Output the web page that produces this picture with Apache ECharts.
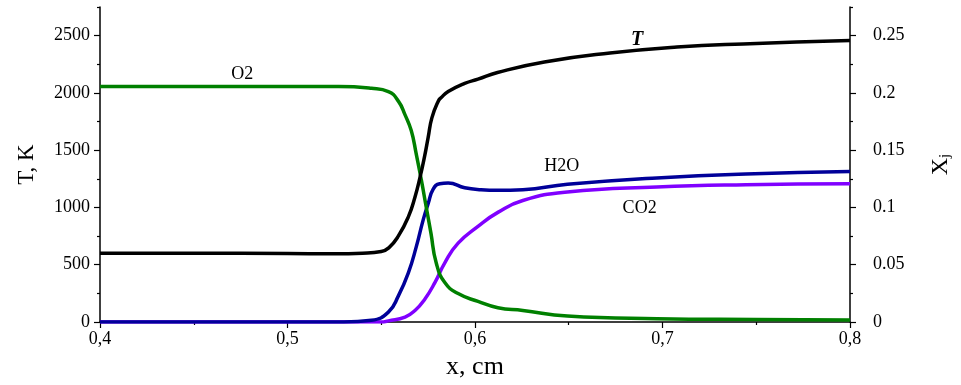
<!DOCTYPE html>
<html>
<head>
<meta charset="utf-8">
<script src="https://cdn.jsdelivr.net/npm/echarts@6/dist/echarts.min.js"></script>
<style>
  html, body { margin: 0; padding: 0; background: #fff; }
  #main { width: 961px; height: 385px; }
</style>
</head>
<body>
<div id="main"></div>
<script>
// temperature, left axis (K)
var tX = [0.40, 0.45, 0.50, 0.525, 0.54, 0.550, 0.554, 0.559, 0.5645, 0.568, 0.5707, 0.573, 0.575, 0.577, 0.5804, 0.582, 0.5857, 0.5945, 0.6016, 0.612, 0.637, 0.672, 0.7077, 0.743, 0.80];
var tVals = [600, 600, 598, 595, 600, 615, 647, 747, 920, 1092, 1265, 1437, 1610, 1782, 1928, 1960, 2012, 2083, 2120, 2178, 2270, 2348, 2400, 2428, 2457];

// mole fractions, right axis
var o2X = [0.40, 0.50, 0.5273, 0.5448, 0.5538, 0.5592, 0.5627, 0.566, 0.5687, 0.5714, 0.574, 0.5765, 0.5793, 0.5839, 0.591, 0.6016, 0.6122, 0.6255, 0.6493, 0.697, 0.75, 0.80];
var o2Vals = [0.2055, 0.2055, 0.2055, 0.2040, 0.2012, 0.1926, 0.1808, 0.1671, 0.1464, 0.1238, 0.1002, 0.0776, 0.0517, 0.0344, 0.0248, 0.0180, 0.0124, 0.0101, 0.0052, 0.0029, 0.0022, 0.0018];

var h2oX = [0.40, 0.53, 0.5448, 0.5538, 0.5592, 0.5645, 0.5687, 0.5724, 0.575, 0.5777, 0.5812, 0.5857, 0.5945, 0.6032, 0.6122, 0.6255, 0.6493, 0.697, 0.7445, 0.80];
var h2oVals = [0, 0, 0.0015, 0.0086, 0.0230, 0.0431, 0.0658, 0.0894, 0.1032, 0.1160, 0.1207, 0.1213, 0.1172, 0.1155, 0.1150, 0.1155, 0.1202, 0.1258, 0.1293, 0.1314];

var co2X = [0.40, 0.55, 0.5538, 0.5627, 0.568, 0.5733, 0.5786, 0.5839, 0.591, 0.6016, 0.6122, 0.6255, 0.6493, 0.697, 0.7445, 0.80];
var co2Vals = [0, 0, 0.0010, 0.0043, 0.0101, 0.0201, 0.0344, 0.0517, 0.0688, 0.0835, 0.0957, 0.1061, 0.1135, 0.1179, 0.1199, 0.1207];

var tMajor = [0, 500, 1000, 1500, 2000, 2500];
var tMinor = [250, 750, 1250, 1750, 2250, 2750];
var xjMajor = [0, 0.05, 0.1, 0.15, 0.2, 0.25];
var xjMinor = [0.025, 0.075, 0.125, 0.175, 0.225, 0.275];

var FONT = '"Liberation Serif", "Times New Roman", serif';

function pairs(xs, ys) {
  return xs.map(function (x, i) { return [x, ys[i]]; });
}

function tag(text, coord, extra) {
  var label = {
    show: true,
    formatter: text,
    position: 'inside',
    color: '#000',
    fontSize: 18,
    fontFamily: FONT
  };
  if (extra) Object.assign(label, extra);
  return {
    symbol: 'circle',
    symbolSize: 0,
    silent: true,
    data: [{ coord: coord }],
    label: label
  };
}

var chart = echarts.init(document.getElementById('main'));
var lineAxis = { lineStyle: { color: '#000', width: 1.5 } };
var tickStyle = { color: '#000', width: 1.2 };

chart.setOption({
  animation: false,
  backgroundColor: '#fff',
  grid: { left: 100, right: 107, top: 7, bottom: 58 },
  xAxis: {
    type: 'value',
    min: 0.4,
    max: 0.8,
    interval: 0.1,
    name: 'x, cm',
    nameLocation: 'middle',
    nameGap: 32,
    nameTextStyle: { fontSize: 26, fontFamily: FONT, color: '#000' },
    axisLine: lineAxis,
    axisTick: { length: 6, lineStyle: tickStyle },
    minorTick: { show: true, splitNumber: 2, length: 3, lineStyle: tickStyle },
    axisLabel: {
      fontSize: 18, fontFamily: FONT, color: '#000', margin: 8,
      formatter: function (v) { return String(Math.round(v * 10) / 10).replace('.', ','); }
    },
    splitLine: { show: false }
  },
  yAxis: [
    {
      type: 'value', position: 'left', min: 0, max: 2750,
      name: 'T, K', nameLocation: 'middle', nameRotate: 90, nameGap: 62,
      nameTextStyle: { fontSize: 23, fontFamily: FONT, color: '#000' },
      axisLine: { show: true, lineStyle: { color: '#000', width: 1.5 } },
      axisTick: { show: true, length: 6, customValues: tMajor, lineStyle: tickStyle },
      axisLabel: {
        customValues: tMajor, fontSize: 18, fontFamily: FONT, color: '#000', margin: 10,
        formatter: function (v) { return String(v); }
      },
      splitLine: { show: false }
    },
    {
      type: 'value', position: 'right', min: 0, max: 0.275,
      name: '{a|X}{b|j}', nameLocation: 'middle', nameRotate: 90, nameGap: 78,
      nameTextStyle: {
        color: '#000',
        rich: {
          a: { fontSize: 24, fontFamily: FONT, color: '#000' },
          b: { fontSize: 15, fontFamily: FONT, color: '#000', padding: [10, 0, 0, 0] }
        }
      },
      axisLine: { show: true, lineStyle: { color: '#000', width: 1.5 } },
      axisTick: { show: true, length: 6, customValues: xjMajor, lineStyle: tickStyle },
      axisLabel: {
        customValues: xjMajor, fontSize: 18, fontFamily: FONT, color: '#000', margin: 23,
        formatter: function (v) { return String(Math.round(v * 100) / 100); }
      },
      splitLine: { show: false }
    },
    // minor tick overlays
    {
      type: 'value', position: 'left', min: 0, max: 2750,
      axisLine: { show: false },
      axisTick: { show: true, length: 3, customValues: tMinor, lineStyle: tickStyle },
      axisLabel: { show: false },
      splitLine: { show: false }
    },
    {
      type: 'value', position: 'right', min: 0, max: 0.275,
      axisLine: { show: false },
      axisTick: { show: true, length: 3, customValues: xjMinor, lineStyle: tickStyle },
      axisLabel: { show: false },
      splitLine: { show: false }
    }
  ],
  series: [
    {
      name: 'CO2', type: 'line', yAxisIndex: 1, showSymbol: false, smooth: 0.5,
      lineStyle: { color: '#8000ff', width: 3.5 },
      data: pairs(co2X, co2Vals),
      markPoint: tag('CO2', [0.6878, 0.0989])
    },
    {
      name: 'H2O', type: 'line', yAxisIndex: 1, showSymbol: false, smooth: 0.5,
      lineStyle: { color: '#000099', width: 3.5 },
      data: pairs(h2oX, h2oVals),
      markPoint: tag('H2O', [0.6462, 0.1359])
    },
    {
      name: 'O2', type: 'line', yAxisIndex: 1, showSymbol: false, smooth: 0.5,
      lineStyle: { color: '#008000', width: 3.5 },
      data: pairs(o2X, o2Vals),
      markPoint: tag('O2', [0.4759, 0.2161])
    },
    {
      name: 'T', type: 'line', yAxisIndex: 0, showSymbol: false, smooth: 0.5,
      lineStyle: { color: '#000', width: 3.5 },
      data: pairs(tX, tVals),
      markPoint: tag('T', [0.6865, 2463], { fontSize: 20, fontWeight: 'bold', fontStyle: 'italic' })
    }
  ]
});
</script>
</body>
</html>
